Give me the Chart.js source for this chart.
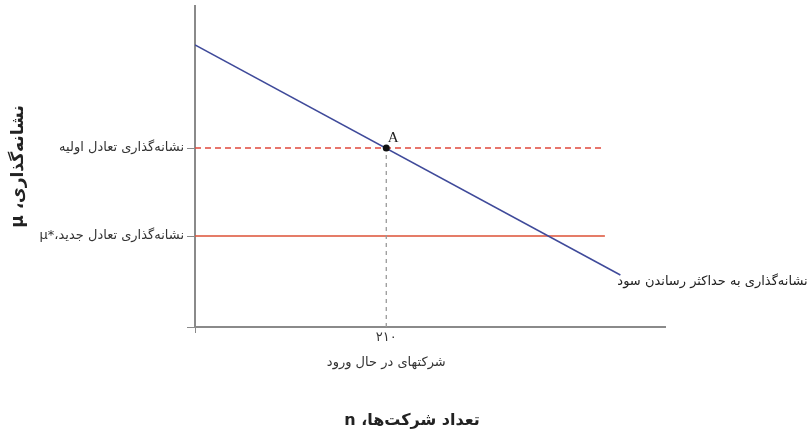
<!DOCTYPE html>
<html>
<head>
<meta charset="utf-8">
<script src="https://cdn.jsdelivr.net/npm/chart.js@4"></script>
<style>
  html, body { margin: 0; padding: 0; background: #fff; }
  canvas { display: block; direction: rtl; }
</style>
</head>
<body>
<canvas id="chart" width="810" height="444" dir="rtl"></canvas>
<script>
// axis ticks
const xTicks = [0, 210];
const xTickLabels = ["", ["۲۱۰", "", "شرکتهای در حال ورود"]];
const yTicks = [0, 91, 179];
const yTickLabels = ["", "نشانه‌گذاری تعادل جدید،*μ", "نشانه‌گذاری تعادل اولیه"];

// lines
const profitMaxX = [0, 467];
const profitMaxY = [282, 52];
const initialX = [0, 450];
const initialY = [179, 179];
const newX = [0, 450];
const newY = [91, 91];
const entrantsX = [210, 210];
const entrantsY = [0, 179];
const pointAX = [210];
const pointAY = [179];

const profitMaxLabel = "نشانه‌گذاری به حداکثر رساندن سود";
const pointALabel = "A";
const xTitle = "تعداد شرکت‌ها، n";

const font = "'DejaVu Sans', 'Noto Sans', sans-serif";
const axisGray = "#8a8a8a";

function pts(xs, ys) {
  return xs.map(function (x, i) { return { x: x, y: ys[i] }; });
}

const labelPlugin = {
  id: "lineLabels",
  afterDatasetsDraw: function (chart) {
    const ctx = chart.ctx;
    ctx.save();
    // profit-max curve label at the line's end
    const blue = chart.getDatasetMeta(3).data;
    const end = blue[blue.length - 1];
    ctx.fillStyle = "#222";
    ctx.font = "13px " + font;
    ctx.textAlign = "left";
    ctx.textBaseline = "middle";
    ctx.fillText(profitMaxLabel, end.x - 3, end.y + 7);
    // point A
    const a = chart.getDatasetMeta(0).data[0];
    ctx.font = "15px 'Liberation Serif', serif";
    ctx.textAlign = "center";
    ctx.textBaseline = "alphabetic";
    ctx.fillText(pointALabel, a.x + 7, a.y - 6);
    // x axis title, a little left of the plot centre
    const area = chart.chartArea;
    ctx.font = "bold 16px " + font;
    ctx.textBaseline = "middle";
    ctx.fillText(xTitle, (area.left + area.right) / 2 - 18, chart.height - 23);
    ctx.restore();
  }
};

new Chart(document.getElementById("chart"), {
  type: "scatter",
  data: {
    datasets: [
      { data: pts(pointAX, pointAY), pointRadius: 3.5, pointBackgroundColor: "#111", pointBorderWidth: 0, showLine: false },
      { data: pts(entrantsX, entrantsY), showLine: true, borderColor: "#9a9a9a", borderWidth: 1.3, borderDash: [4, 4], pointRadius: 0 },
      { data: pts(initialX, initialY), showLine: true, borderColor: "#e0483c", borderWidth: 1.4, borderDash: [6, 4], pointRadius: 0 },
      { data: pts(profitMaxX, profitMaxY), showLine: true, borderColor: "#3f4a9a", borderWidth: 1.5, pointRadius: 0 },
      { data: pts(newX, newY), showLine: true, borderColor: "#dc5136", borderWidth: 1.5, pointRadius: 0 }
    ]
  },
  options: {
    responsive: false,
    animation: false,
    layout: { padding: { top: 6, right: 145, left: 0, bottom: 0 } },
    plugins: { legend: { display: false }, tooltip: { enabled: false } },
    scales: {
      x: {
        type: "linear",
        min: 0,
        max: 516,
        afterBuildTicks: function (scale) { scale.ticks = xTicks.map(function (v) { return { value: v }; }); },
        afterFit: function (scale) { scale.height = 117; },
        ticks: {
          color: "#333",
          padding: -2,
          autoSkip: false,
          maxRotation: 0,
          font: { family: font, size: 13, lineHeight: "12.5px" },
          callback: function (v) { return xTickLabels[xTicks.indexOf(v)]; }
        },
        grid: {
          drawOnChartArea: false,
          tickLength: 6,
          tickColor: function (c) { return c.tick && c.tick.value === 0 ? axisGray : "rgba(0,0,0,0)"; }
        },
        border: { color: axisGray, width: 2 }
      },
      y: {
        type: "linear",
        min: 0,
        max: 321,
        afterBuildTicks: function (scale) { scale.ticks = yTicks.map(function (v) { return { value: v }; }); },
        afterFit: function (scale) {
          scale.width = 195;
          scale.paddingTop = 0;
          scale.paddingBottom = 0;
        },
        ticks: {
          color: "#333",
          padding: 3,
          autoSkip: false,
          font: { family: font, size: 13 },
          callback: function (v) { return yTickLabels[yTicks.indexOf(v)]; }
        },
        grid: { drawOnChartArea: false, tickLength: 8, tickColor: axisGray },
        border: { color: axisGray, width: 2 },
        title: {
          display: true,
          text: "نشانه‌گذاری، μ",
          color: "#222",
          font: { family: font, size: 17, weight: "bold" },
          padding: { top: 8, bottom: 0 }
        }
      }
    }
  },
  plugins: [labelPlugin]
});
</script>
</body>
</html>
